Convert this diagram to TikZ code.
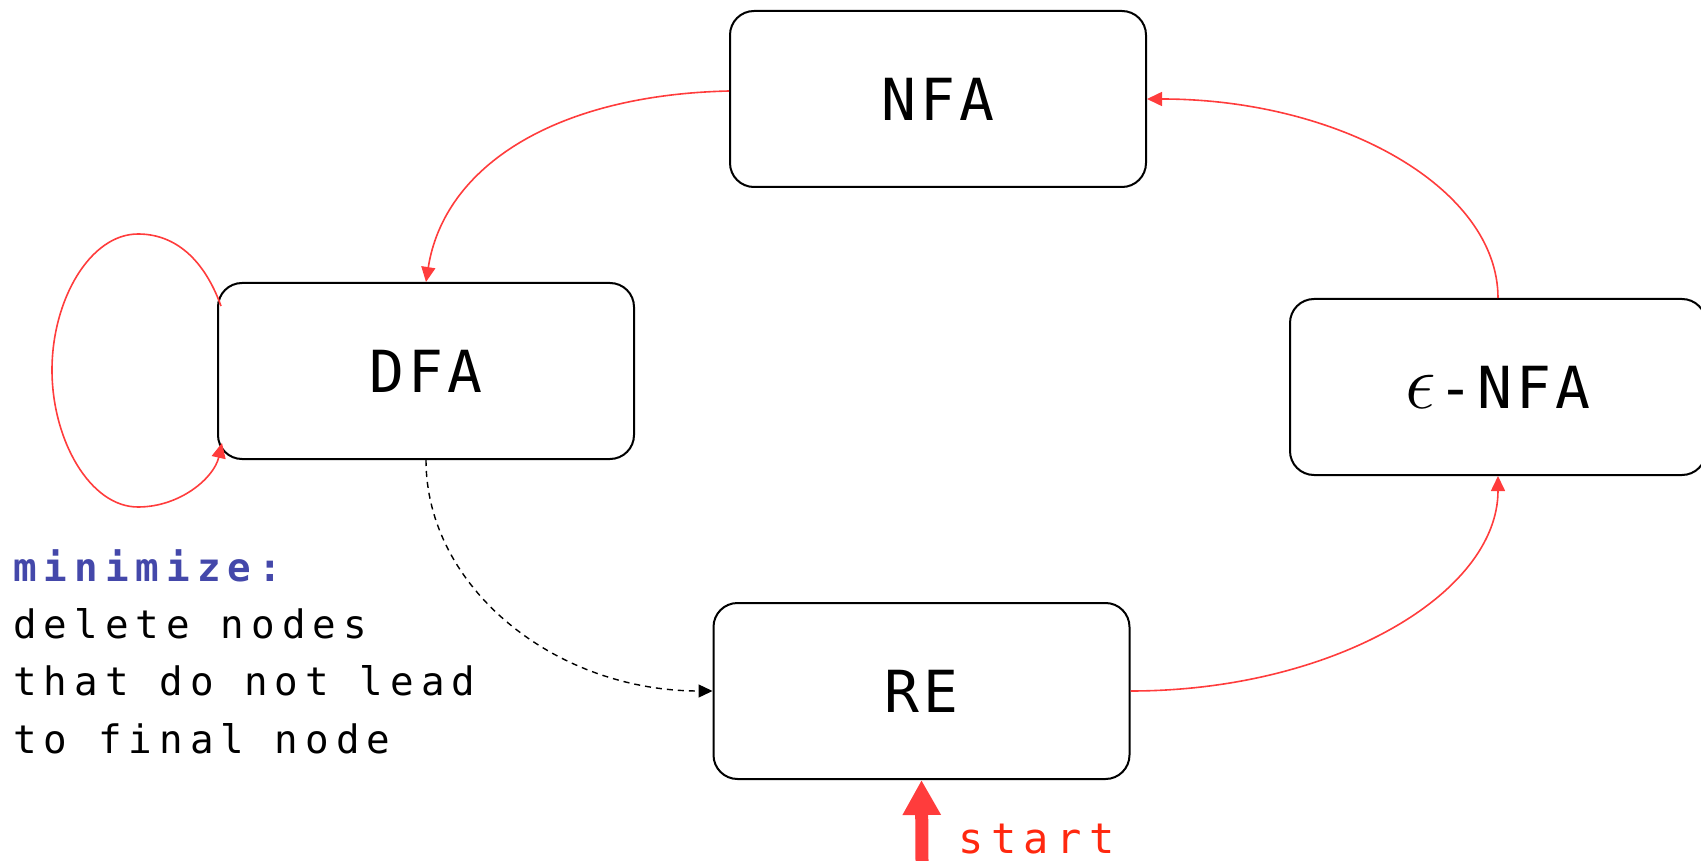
\documentclass[tikz,border=0pt]{standalone}
\usepackage{graphicx}
\usepackage{fontspec}
\setmonofont{DejaVu Sans Mono}
\newfontfamily\boxfont[LetterSpace=7]{DejaVu Sans Mono}
\newfontfamily\notefont[LetterSpace=18]{DejaVu Sans Mono}
\usetikzlibrary{arrows.meta,calc}

\definecolor{edgered}{RGB}{255,60,60}
\definecolor{startred}{RGB}{255,40,15}
\definecolor{noteblue}{RGB}{68,72,170}

\tikzset{
  automaton/.style={draw=black, line width=2pt, rounded corners=24pt,
    minimum width=416pt, minimum height=176pt, inner sep=0pt,
    font=\boxfont\fontsize{58}{60}\selectfont},
  conv/.style={draw=edgered, line width=1.6pt,
    -{Triangle[length=15pt,width=14pt]}, edgered},
  lossy/.style={draw=black, line width=1.4pt, dash pattern=on 6pt off 5pt,
    -{Triangle[length=14pt,width=13pt]}},
  notetext/.style={font=\notefont\fontsize{39.2}{57.3}\selectfont,
    align=left, inner sep=0pt}
}

\begin{document}
\begin{tikzpicture}[x=1pt,y=-1pt]
\useasboundingbox (0,0) rectangle (1701,861);

% the four representations
\node[automaton] (nfa)  at (938,99)    {NFA};
\node[automaton] (dfa)  at (426,371)   {DFA};
\node[automaton] (enfa) at (1498,387)
  {\scalebox{3.1}{$\epsilon$}\hspace{2pt}-NFA};
\node[automaton] (re)   at (921.5,691) {RE};

% conversions around the cycle
\draw[conv] ($(nfa.west)+(0,-8)$)
  .. controls +(-175,4) and +(18,-115) .. (dfa.north);
\draw[conv] (enfa.north)
  .. controls +(0,-110) and +(193,0) .. (nfa.east);
\draw[conv] (re.east)
  .. controls +(202,0) and +(0,118) .. (enfa.south);
\draw[lossy] (dfa.south)
  .. controls +(0,127) and +(-158,0) .. (re.west);

% minimisation loop on the DFA
\draw[conv] ($(dfa.north west)+(4,24)$)
  .. controls +(-17,-47) and (175,234) .. (138,234)
  .. controls (90,234) and (52,300) .. (52,370)
  .. controls (52,440) and (90,507) .. (138,507)
  .. controls (180,507) and (214,478) .. ($(dfa.south west)+(5,-17)$);

\node[notetext, anchor=base west] (note) at (13,753)
  {\textcolor{noteblue}{\bfseries minimize:}\\
   delete nodes\\
   that do not lead\\
   to final node};

% entry point
\coordinate (startfoot) at (922,861);
\draw[edgered, line width=13pt, -{Triangle[length=35pt,width=36pt]}]
  (startfoot) -- (re.south);
\node[anchor=base west, inner sep=0pt, text=startred,
  font=\notefont\fontsize{42}{42}\selectfont] (startlbl) at (958,853) {start};
\end{tikzpicture}
\end{document}
